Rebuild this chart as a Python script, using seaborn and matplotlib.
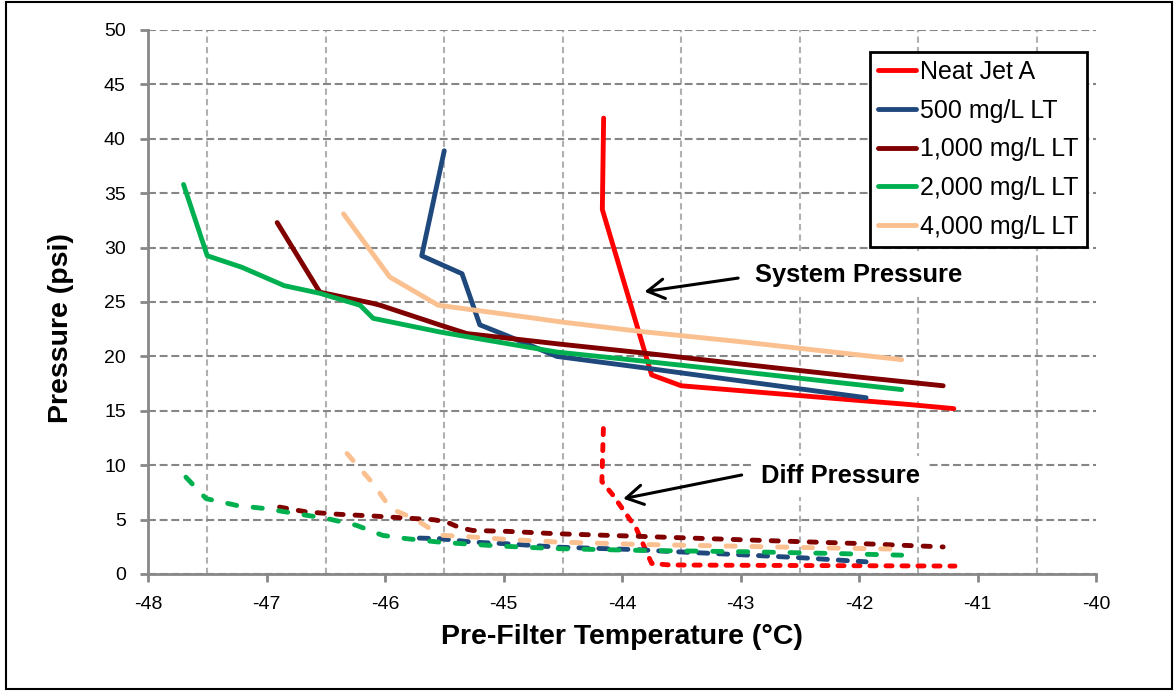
import numpy as np
import pandas as pd
import matplotlib
matplotlib.use('Agg')
import matplotlib.pyplot as plt
import seaborn as sns
from matplotlib.patches import Rectangle

sns.set_theme(style='ticks')
plt.rcParams['font.family'] = ['Liberation Sans', 'DejaVu Sans']
plt.rcParams['axes.unicode_minus'] = False
plt.rcParams['text.color'] = 'black'
plt.rcParams['axes.labelcolor'] = 'black'

# Series names
labels = ['Neat Jet A', '500 mg/L LT', '1,000 mg/L LT', '2,000 mg/L LT', '4,000 mg/L LT']
colors = ['#FF0000', '#1F497D', '#800000', '#00B050', '#FAC090']

# System pressure (solid lines): temperature (C) and pressure (psi)
neat_sys_t = [-44.155, -44.166, -43.75, -43.50, -43.0, -42.5, -42.0, -41.6, -41.20]
neat_sys_p = [41.9, 33.5, 18.3, 17.3, 16.85, 16.4, 15.95, 15.6, 15.2]
lt500_sys_t = [-45.50, -45.69, -45.35, -45.20, -44.97, -44.55, -43.85, -43.0, -41.94]
lt500_sys_p = [38.9, 29.25, 27.6, 22.9, 21.9, 20.0, 19.0, 17.75, 16.2]
lt1000_sys_t = [-46.91, -46.55, -46.10, -46.04, -45.54, -45.31, -44.5, -43.85, -43.0, -42.0, -41.29]
lt1000_sys_p = [32.3, 25.9, 24.87, 24.7, 22.9, 22.1, 21.1, 20.35, 19.3, 18.1, 17.3]
lt2000_sys_t = [-47.70, -47.50, -47.21, -46.85, -46.55, -46.21, -46.10, -45.54, -45.17,
                -44.55, -43.85, -43.0, -42.3, -41.64]
lt2000_sys_p = [35.8, 29.25, 28.2, 26.5, 25.8, 24.7, 23.5, 22.25, 21.55,
                20.4, 19.6, 18.6, 17.75, 16.95]
lt4000_sys_t = [-46.35, -45.96, -45.55, -45.0, -44.5, -43.85, -43.0, -42.3, -41.64]
lt4000_sys_p = [33.1, 27.3, 24.7, 23.9, 23.15, 22.3, 21.35, 20.5, 19.7]

# Differential pressure (dashed lines)
neat_diff_t = [-44.157, -44.17, -44.08, -43.99, -43.88, -43.80, -43.75, -43.6, -43.0, -42.0, -41.19]
neat_diff_p = [13.37, 8.5, 7.3, 5.9, 4.2, 2.2, 0.97, 0.83, 0.8, 0.76, 0.73]
lt500_diff_t = [-45.71, -45.54, -45.26, -44.97, -44.55, -43.85, -43.65, -42.92, -42.48, -41.94]
lt500_diff_p = [3.3, 3.25, 2.93, 2.78, 2.47, 2.23, 2.1, 1.73, 1.49, 1.12]
lt1000_diff_t = [-46.89, -46.66, -46.38, -46.10, -45.82, -45.59, -45.48, -45.37, -45.26,
                 -44.97, -44.55, -43.85, -43.0, -42.0, -41.29]
lt1000_diff_p = [6.15, 5.7, 5.48, 5.33, 5.14, 4.99, 4.78, 4.26, 4.0,
                 3.92, 3.7, 3.46, 3.15, 2.8, 2.49]
lt2000_diff_t = [-47.68, -47.51, -47.25, -47.0, -46.75, -46.49, -46.24, -46.02, -45.82,
                 -45.54, -45.26, -44.97, -44.55, -43.85, -42.92, -42.19, -41.64]
lt2000_diff_p = [8.9, 6.93, 6.3, 6.0, 5.55, 5.1, 4.47, 3.55, 3.25,
                 2.93, 2.72, 2.54, 2.33, 2.17, 2.04, 1.88, 1.73]
lt4000_diff_t = [-46.32, -46.10, -45.99, -45.93, -45.82, -45.73, -45.62, -45.51, -45.34,
                 -44.97, -44.55, -43.85, -43.0, -42.3, -41.64]
lt4000_diff_p = [11.07, 8.3, 6.6, 5.9, 5.4, 4.93, 4.17, 3.55, 3.46,
                 3.18, 2.94, 2.72, 2.55, 2.4, 2.28]

sys_t = [neat_sys_t, lt500_sys_t, lt1000_sys_t, lt2000_sys_t, lt4000_sys_t]
sys_p = [neat_sys_p, lt500_sys_p, lt1000_sys_p, lt2000_sys_p, lt4000_sys_p]
diff_t = [neat_diff_t, lt500_diff_t, lt1000_diff_t, lt2000_diff_t, lt4000_diff_t]
diff_p = [neat_diff_p, lt500_diff_p, lt1000_diff_p, lt2000_diff_p, lt4000_diff_p]

# dash patterns for the diff pressure lines (in linewidth units)
dash_styles = [(0, (1.26, 2.03)), (0, (1.88, 2.23)), (0, (1.47, 2.44)),
               (0, (1.9, 3.4)), (0, (1.9, 3.4))]

fig = plt.figure(figsize=(11.75, 6.91), dpi=100)
ax = fig.add_axes([148 / 1175, 1 - 574 / 691, 948 / 1175, 544 / 691])

handles = []
for i in range(len(labels)):
    sns.lineplot(x=diff_t[i], y=diff_p[i], ax=ax, color=colors[i], lw=3.5, sort=False,
                 estimator=None, linestyle=dash_styles[i], dash_capstyle='round')
for i in range(len(labels)):
    sns.lineplot(x=sys_t[i], y=sys_p[i], ax=ax, color=colors[i], lw=3.5, sort=False,
                 estimator=None, solid_capstyle='round', solid_joinstyle='round')
    handles.append(ax.lines[-1])

ax.set_xlim(-48, -40)
ax.set_ylim(0, 50)
ax.set_xticks(np.arange(-48, -39, 1))
ax.set_yticks(np.arange(0, 51, 5))
ax.set_xticks(np.arange(-48, -39.9, 0.5), minor=True)

ax.set_axisbelow(True)
ax.yaxis.grid(True, which='major', color='#868686', lw=1.5, linestyle=(0, (3.8, 1.8)))
ax.xaxis.grid(True, which='minor', color='#b0b0b0', lw=1.5, linestyle=(0, (3.0, 2.0)))
ax.xaxis.grid(False, which='major')

for s in ['top', 'right']:
    ax.spines[s].set_visible(False)
for s in ['left', 'bottom']:
    ax.spines[s].set_color('#888888')
    ax.spines[s].set_linewidth(2)

ax.tick_params(axis='both', which='major', direction='out', length=6, width=2,
               color='#888888', labelsize=14, labelcolor='black', pad=10)
ax.tick_params(axis='x', which='minor', length=0)

ax.set_xlabel('Pre-Filter Temperature (°C)', fontsize=20.5, fontweight='bold', labelpad=8)
ax.set_ylabel('Pressure (psi)', fontsize=20.5, fontweight='bold')
ax.yaxis.set_label_coords(-0.078, 0.452)

leg = ax.legend(handles, labels, loc='upper right', bbox_to_anchor=(0.9905, 0.9596),
                fontsize=18, frameon=True, fancybox=False, edgecolor='black',
                framealpha=1, borderaxespad=0, handlelength=1.5, handletextpad=0.18,
                labelspacing=0.59, borderpad=0.32)
leg.get_frame().set_linewidth(2)
for t in leg.get_texts():
    t.set_color('black')

# annotations
sys_text_xy = (-42.878, 26.84)
sys_arrow_tail = (-43.02, 27.2)
sys_arrow_head = (-43.81, 25.95)
diff_text_xy = (-42.83, 8.34)
diff_arrow_tail = (-42.99, 9.1)
diff_arrow_head = (-43.99, 6.92)

arrow_kw = dict(arrowstyle='->,head_length=0.6,head_width=0.35', color='black', lw=2.2,
                mutation_scale=20, shrinkA=0, shrinkB=0)
ax.annotate('', xy=sys_arrow_head, xytext=sys_arrow_tail, arrowprops=arrow_kw)
ax.annotate('', xy=diff_arrow_head, xytext=diff_arrow_tail, arrowprops=arrow_kw)
ax.text(*sys_text_xy, 'System Pressure', fontsize=18.4, fontweight='bold', ha='left',
        va='baseline', color='black', bbox=dict(facecolor='white', edgecolor='none', pad=6))
ax.text(*diff_text_xy, 'Diff Pressure', fontsize=18.4, fontweight='bold', ha='left',
        va='baseline', color='black', bbox=dict(facecolor='white', edgecolor='none', pad=6))

# outer chart border
fig.patches.append(Rectangle((6 / 1175, 1 - 689 / 691), 1166 / 1175, 687 / 691,
                             transform=fig.transFigure, fill=False, edgecolor='black', lw=1.5))

fig.savefig('out.png', dpi=100)
